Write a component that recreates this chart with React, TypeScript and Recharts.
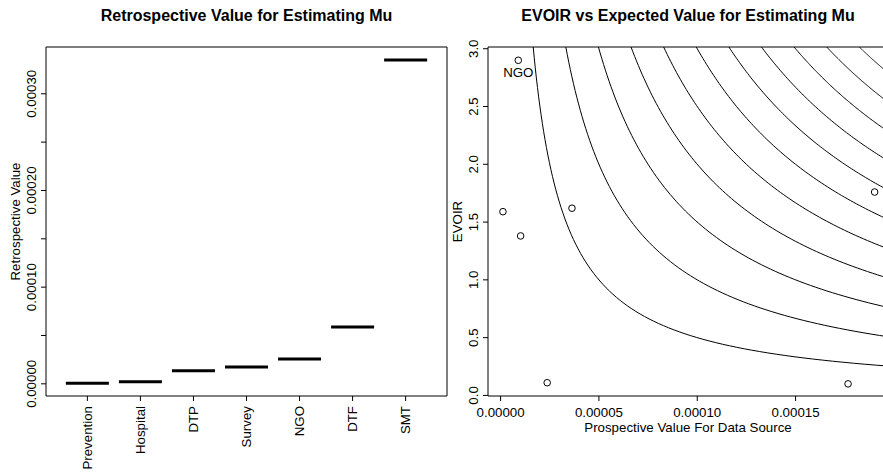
import React from 'react';
import {
  ComposedChart,
  Scatter,
  Line,
  XAxis,
  YAxis,
  ReferenceArea,
} from 'recharts';

// left panel: retrospective value per data source
const sources = ['Prevention', 'Hospital', 'DTP', 'Survey', 'NGO', 'DTF', 'SMT'];
const retrospective = [0.0000007, 0.0000021, 0.0000134, 0.0000173, 0.0000256, 0.0000587, 0.0003349];
const retroTicks = [0, 0.00005, 0.0001, 0.00015, 0.0002, 0.00025, 0.0003];

// right panel: prospective value vs EVOIR
const prospective = [0.0000012, 0.000009, 0.0000102, 0.0000237, 0.0000363, 0.0001767, 0.0001902];
const evoir = [1.59, 2.9, 1.38, 0.11, 1.62, 0.1, 1.76];
const pointLabels = ['', 'NGO', '', '', '', '', ''];
const prospTicks = [0, 0.00005, 0.0001, 0.00015];
const evoirTicks = [0, 0.5, 1, 1.5, 2, 2.5, 3];
// contour levels of value x EVOIR
const contourLevels = [
  0.00005, 0.0001, 0.00015, 0.0002, 0.00025, 0.0003, 0.00035, 0.0004, 0.00045, 0.0005, 0.00055,
];

const FONT = '"Liberation Sans", Arial, Helvetica, sans-serif';
const FS = 13.3;

const retroDomain: [number, number] = [-0.0000126, 0.0003484];
const posDomain: [number, number] = [0.22, 7.78];
const prospDomain: [number, number] = [-0.0000064, 0.000197];
const evoirDomain: [number, number] = [-0.005, 3.015];

const retroRows = sources.map((name, i) => ({ x: i + 1, y: retrospective[i], name }));
const pointRows = prospective.map((x, i) => ({ x, y: evoir[i], label: pointLabels[i] }));

// each contour is x * y = level, drawn from the top of the plot to the right edge
const contourRows = contourLevels.map((level) => {
  const x0 = level / evoirDomain[1];
  const x1 = prospDomain[1];
  const n = 80;
  const pts = [];
  for (let i = 0; i <= n; i++) {
    const x = x0 * Math.pow(x1 / x0, i / n);
    pts.push({ x, y: level / x });
  }
  return pts;
});

const MedianMark = (props: any) => {
  const { cx, cy } = props;
  return <line x1={cx - 21.5} x2={cx + 21.5} y1={cy} y2={cy} stroke="#000" strokeWidth={3} />;
};

const OpenCircle = (props: any) => {
  const { cx, cy, payload } = props;
  return (
    <g>
      <circle cx={cx} cy={cy} r={3.3} fill="none" stroke="#000" strokeWidth={1} />
      {payload && payload.label ? (
        <text x={cx} y={cy + 16.5} textAnchor="middle" fontSize={FS} fontFamily={FONT} fill="#000">
          {payload.label}
        </text>
      ) : null}
    </g>
  );
};

const VerticalYTick = (props: any) => {
  const { x, y, payload, fmt } = props;
  const txt = fmt(payload.value);
  if (!txt) return null;
  const px = x - 5;
  return (
    <text
      x={px}
      y={y}
      transform={`rotate(-90, ${px}, ${y})`}
      textAnchor="middle"
      fontSize={FS}
      fontFamily={FONT}
      fill="#000"
    >
      {txt}
    </text>
  );
};

const CategoryTick = (props: any) => {
  const { x, y, payload } = props;
  const name = sources[Math.round(payload.value) - 1];
  const px = x + 4.8;
  const py = y + 5;
  return (
    <text
      x={px}
      y={py}
      transform={`rotate(-90, ${px}, ${py})`}
      textAnchor="end"
      fontSize={FS}
      fontFamily={FONT}
      fill="#000"
    >
      {name}
    </text>
  );
};

const ProspTick = (props: any) => {
  const { x, y, payload } = props;
  return (
    <text x={x} y={y + 16} textAnchor="middle" fontSize={FS} fontFamily={FONT} fill="#000">
      {payload.value.toFixed(5)}
    </text>
  );
};

const yTitle = (text: string) => (props: any) => {
  const vb = props.viewBox;
  const px = vb.x + vb.width - 26.5;
  const py = vb.y + vb.height / 2;
  return (
    <text
      x={px}
      y={py}
      transform={`rotate(-90, ${px}, ${py})`}
      textAnchor="middle"
      fontSize={FS}
      fontFamily={FONT}
      fill="#000"
    >
      {text}
    </text>
  );
};

const xTitle = (text: string) => (props: any) => {
  const vb = props.viewBox;
  return (
    <text
      x={vb.x + vb.width / 2}
      y={vb.y + 35.5}
      textAnchor="middle"
      fontSize={FS}
      fontFamily={FONT}
      fill="#000"
    >
      {text}
    </text>
  );
};

const titleStyle: React.CSSProperties = {
  position: 'absolute',
  top: 8,
  fontFamily: FONT,
  fontWeight: 'bold',
  fontSize: 16,
  lineHeight: '16px',
  textAlign: 'center',
  whiteSpace: 'nowrap',
};

export default function App() {
  return (
    <div
      style={{
        position: 'absolute',
        left: 0,
        top: 0,
        width: 883,
        height: 472,
        overflow: 'hidden',
        background: '#fff',
      }}
    >
      <div style={{ ...titleStyle, left: 46, width: 401 }}>Retrospective Value for Estimating Mu</div>
      <div style={{ ...titleStyle, left: 488, width: 400 }}>EVOIR vs Expected Value for Estimating Mu</div>

      <div style={{ position: 'absolute', left: 0, top: 0 }}>
        <ComposedChart width={460} height={472} margin={{ top: 47, right: 13, bottom: 0, left: 0 }}>
          <XAxis
            type="number"
            dataKey="x"
            domain={posDomain}
            ticks={[1, 2, 3, 4, 5, 6, 7]}
            allowDataOverflow
            height={76}
            axisLine={false}
            tickSize={5}
            tickMargin={0}
            tickLine={{ stroke: '#000' }}
            tick={<CategoryTick />}
            interval={0}
          />
          <YAxis
            type="number"
            dataKey="y"
            domain={retroDomain}
            ticks={retroTicks}
            allowDataOverflow
            width={46}
            axisLine={false}
            tickSize={5}
            tickMargin={0}
            tickLine={{ stroke: '#000' }}
            interval={0}
            tick={
              <VerticalYTick
                fmt={(v: number) => (Math.round(v / 0.00005) % 2 === 0 ? v.toFixed(5) : '')}
              />
            }
            label={yTitle('Retrospective Value')}
          />
          <ReferenceArea
            x1={posDomain[0]}
            x2={posDomain[1]}
            y1={retroDomain[0]}
            y2={retroDomain[1]}
            fill="none"
            stroke="#000"
            strokeWidth={1}
            ifOverflow="visible"
          />
          <Scatter data={retroRows} dataKey="y" shape={<MedianMark />} isAnimationActive={false} />
        </ComposedChart>
      </div>

      <div style={{ position: 'absolute', left: 442, top: 0 }}>
        <ComposedChart width={460} height={472} margin={{ top: 47, right: 14, bottom: 0, left: 0 }}>
          <XAxis
            type="number"
            dataKey="x"
            domain={prospDomain}
            ticks={prospTicks}
            allowDataOverflow
            height={76}
            axisLine={false}
            tickSize={5}
            tickMargin={0}
            tickLine={{ stroke: '#000' }}
            interval={0}
            tick={<ProspTick />}
            label={xTitle('Prospective Value For Data Source')}
          />
          <YAxis
            type="number"
            dataKey="y"
            domain={evoirDomain}
            ticks={evoirTicks}
            allowDataOverflow
            width={46}
            axisLine={false}
            tickSize={5}
            tickMargin={0}
            tickLine={{ stroke: '#000' }}
            interval={0}
            tick={<VerticalYTick fmt={(v: number) => v.toFixed(1)} />}
            label={yTitle('EVOIR')}
          />
          <ReferenceArea
            x1={prospDomain[0]}
            x2={prospDomain[1]}
            y1={evoirDomain[0]}
            y2={evoirDomain[1]}
            fill="none"
            stroke="#000"
            strokeWidth={1}
            ifOverflow="visible"
          />
          {contourRows.map((pts, i) => (
            <Line
              key={i}
              data={pts}
              dataKey="y"
              type="linear"
              stroke="#000"
              strokeWidth={1}
              dot={false}
              activeDot={false}
              isAnimationActive={false}
            />
          ))}
          <Scatter data={pointRows} dataKey="y" shape={<OpenCircle />} isAnimationActive={false} />
        </ComposedChart>
      </div>
    </div>
  );
}
